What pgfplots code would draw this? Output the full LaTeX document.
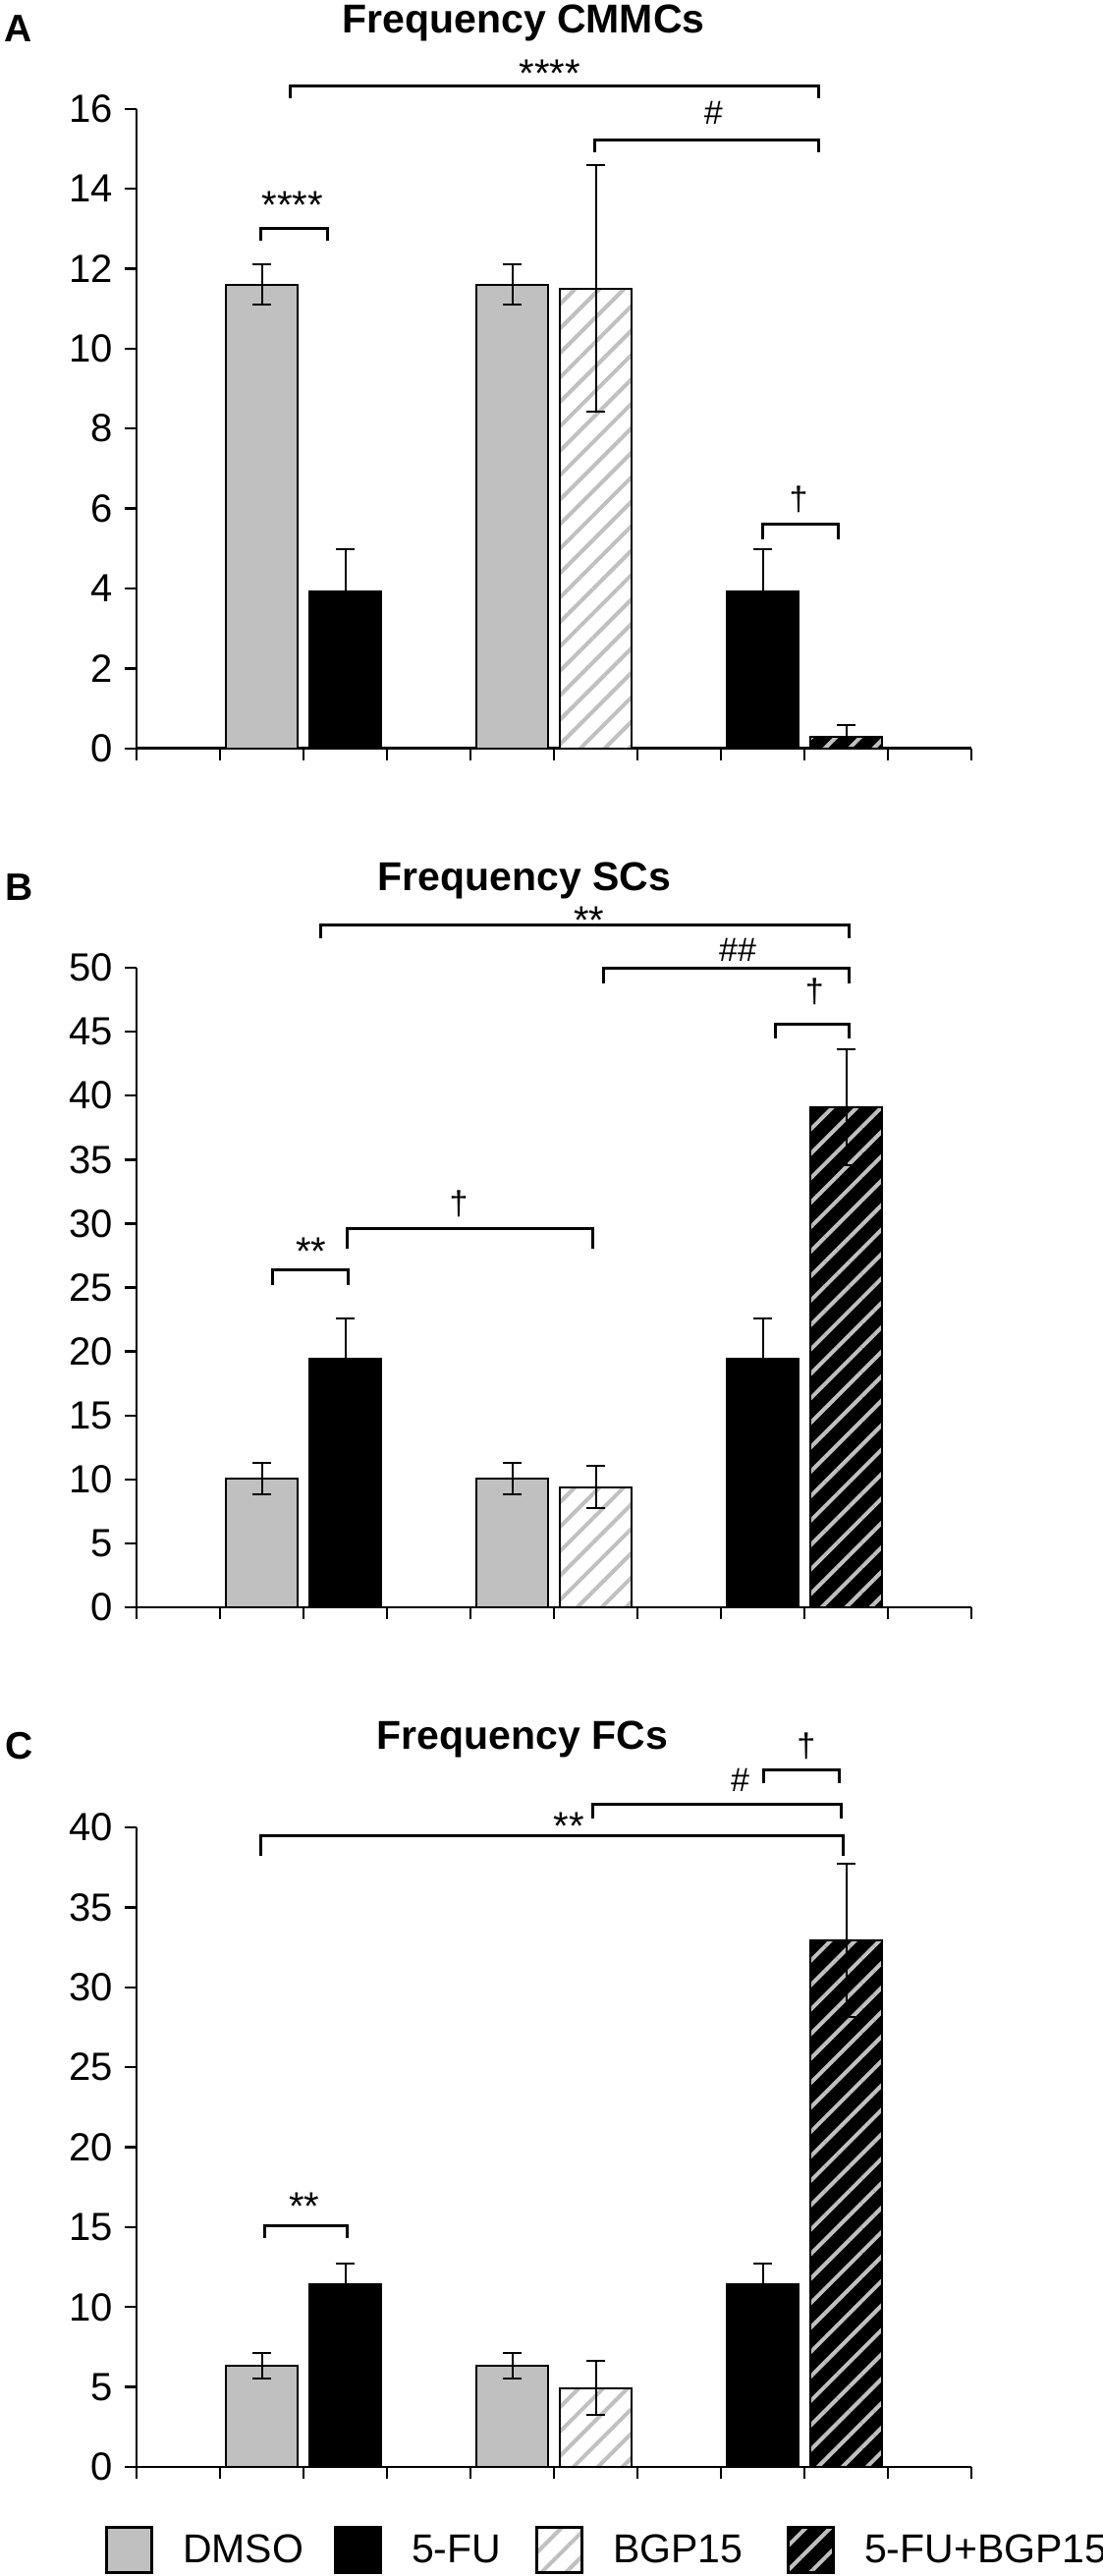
\documentclass[border=0pt]{standalone}
\usepackage{pgfplots}
\pgfplotsset{compat=1.18}
\usepackage{fontspec}
\setmainfont{Liberation Sans}
\usetikzlibrary{patterns.meta}
\definecolor{barGray}{RGB}{192,192,192}
\pgfplotsset{
  panel/.style={
    scale only axis, width=425pt, height=325.5pt, anchor=south west,
    xmin=0, xmax=10, xtick={0,...,10}, xticklabels={},
    ymin=0,
    axis lines*=left,
    axis line style={line width=1.3pt, black},
    tick align=outside, major tick length=6pt,
    major tick style={line width=1.2pt, black},
    tick label style={font=\fontsize{20}{24}\selectfont},
    /pgf/number format/assume math mode=true,
    yticklabel style={anchor=east, inner sep=0pt, xshift=-6pt},
    clip=false,
    ybar, bar width=0.85,
  },
  legbox/.style={legend image code/.code={\draw[##1, line width=1.5pt] (0pt,-11.4pt) rectangle (22.8pt,11.4pt);}},
  errs/.style={
    /pgfplots/error bars/y dir=both,
    /pgfplots/error bars/y explicit,
    /pgfplots/error bars/error bar style={line width=1pt, black, solid},
    /pgfplots/error bars/error mark=-,
    /pgfplots/error bars/error mark options={rotate=90, line width=1pt, black, mark size=4.6pt}},
  dmso/.style={bar shift=0pt, draw=black, line width=1pt, fill=barGray, legbox, errs},
  fu/.style={bar shift=0pt, draw=black, line width=1pt, fill=black, legbox, errs},
  bgp/.style={bar shift=0pt, draw=black, line width=1pt, preaction={fill=white}, pattern={Lines[angle=45,distance=8.8pt,line width=2pt]}, pattern color=barGray, legbox, errs},
  combo/.style={bar shift=0pt, draw=black, line width=1pt, preaction={fill=black}, pattern={Lines[angle=45,distance=8.8pt,line width=2pt]}, pattern color=barGray, legbox, errs},
}
\tikzset{
  brk/.style={line width=1.5pt, black, line join=miter},
  astlab/.style={anchor=base, inner sep=0pt, font=\fontsize{20}{24}\selectfont, yshift=-11.3pt},
  hashlab/.style={anchor=base, inner sep=0pt, font=\fontsize{17}{20}\selectfont, yshift=-5.9pt},
  daglab/.style={anchor=base, inner sep=0pt, font=\fontsize{17}{20}\selectfont, yshift=-4.8pt},
  ttl/.style={anchor=base, inner sep=0pt, font=\fontsize{20.5}{24}\selectfont\bfseries},
  letter/.style={anchor=base west, inner sep=0pt, font=\fontsize{19.5}{24}\selectfont\bfseries},
}
\newcommand{\sigbr}[4]{\draw[brk] (axis cs:#1,#4) -- (axis cs:#1,#3) -- (axis cs:#2,#3) -- (axis cs:#2,#4);}
\begin{document}
\begin{tikzpicture}
\path[use as bounding box] (0pt,0pt) rectangle (561.5pt,-1311pt);

% ---------------- Panel A ----------------
\begin{axis}[panel, at={(69.5pt,-380.85pt)}, ymax=16, ytick={0,2,...,16}]
\addplot[dmso] coordinates {(1.5,11.6) +- (0,0.5) (4.5,11.6) +- (0,0.5)};
\addplot[fu] coordinates {(2.5,3.92) +- (0,1.06) (7.5,3.92) +- (0,1.06)};
\addplot[bgp] coordinates {(5.5,11.5) +- (0,3.08)};
\addplot[combo] coordinates {(8.5,0.3) +- (0,0.29)};
\sigbr{1.49}{2.29}{13.01}{12.70}
\node[astlab] at (axis cs:1.87,13.8) {****};
\sigbr{1.84}{8.17}{16.57}{16.26}
\node[astlab] at (axis cs:4.95,17.1) {****};
\sigbr{5.49}{8.17}{15.22}{14.91}
\node[hashlab] at (axis cs:6.91,15.89) {\#};
\sigbr{7.50}{8.40}{5.61}{5.24}
\node[daglab] at (axis cs:7.93,6.19) {\textdagger};
\end{axis}

% ---------------- Panel B ----------------
\begin{axis}[panel, at={(69.5pt,-818pt)}, ymax=50, ytick={0,5,...,50}]
\addplot[dmso] coordinates {(1.5,10.05) +- (0,1.25) (4.5,10.05) +- (0,1.25)};
\addplot[fu] coordinates {(2.5,19.4) +- (0,3.2) (7.5,19.4) +- (0,3.2)};
\addplot[bgp] coordinates {(5.5,9.4) +- (0,1.65)};
\addplot[combo] coordinates {(8.5,39.1) +- (0,4.5)};
\sigbr{2.2}{8.54}{53.33}{52.29}
\node[astlab] at (axis cs:5.42,54.42) {**};
\sigbr{5.59}{8.54}{50.0}{48.8}
\node[hashlab] at (axis cs:7.2,51.4) {\#\#};
\sigbr{7.65}{8.54}{45.62}{44.46}
\node[daglab] at (axis cs:8.12,48.0) {\textdagger};
\sigbr{1.63}{2.53}{26.39}{25.22}
\node[astlab] at (axis cs:2.09,28.5) {**};
\sigbr{2.52}{5.46}{29.6}{28.03}
\node[daglab] at (axis cs:3.86,31.4) {\textdagger};
\end{axis}

% ---------------- Panel C ----------------
\begin{axis}[panel, at={(69.5pt,-1255.5pt)}, ymax=40, ytick={0,5,...,40},
  legend columns=4, legend cell align=left,
  legend style={at={(axis description cs:0,0)}, anchor=west, xshift=-16pt, yshift=-42.25pt,
    draw=none, fill=none, inner sep=0pt, outer sep=0pt,
    font=\fontsize{20.5}{24}\selectfont, nodes={inner sep=0pt},
    /tikz/every odd column/.append style={column sep=15.2pt}}]
\addplot[dmso] coordinates {(1.5,6.32) +- (0,0.8) (4.5,6.32) +- (0,0.8)};
\addlegendentry{\makebox[77pt][l]{DMSO}}
\addplot[fu] coordinates {(2.5,11.43) +- (0,1.28) (7.5,11.43) +- (0,1.28)};
\addlegendentry{\makebox[63pt][l]{5-FU}}
\addplot[bgp] coordinates {(5.5,4.92) +- (0,1.69)};
\addlegendentry{\makebox[88.5pt][l]{BGP15}}
\addplot[combo] coordinates {(8.5,32.93) +- (0,4.8)};
\addlegendentry{5-FU+BGP15}
\sigbr{1.53}{2.52}{15.1}{14.3}
\node[astlab] at (axis cs:2.01,16.87) {**};
\sigbr{1.49}{8.47}{39.47}{38.25}
\sigbr{5.47}{8.44}{41.42}{40.56}
\node[astlab] at (axis cs:5.18,40.6) {**};
\sigbr{7.51}{8.42}{43.57}{42.75}
\node[hashlab] at (axis cs:7.23,42.95) {\#};
\node[daglab] at (axis cs:8.02,45.0) {\textdagger};
\end{axis}

% titles and panel letters
\node[ttl] at (266.5pt,-17pt) {Frequency CMMCs};
\node[ttl] at (267pt,-453pt) {Frequency SCs};
\node[ttl] at (266pt,-890.4pt) {Frequency FCs};
\node[letter] at (2pt,-21.5pt) {A};
\node[letter] at (2.5pt,-458.2pt) {B};
\node[letter] at (2.5pt,-895.4pt) {C};
\end{tikzpicture}
\end{document}
